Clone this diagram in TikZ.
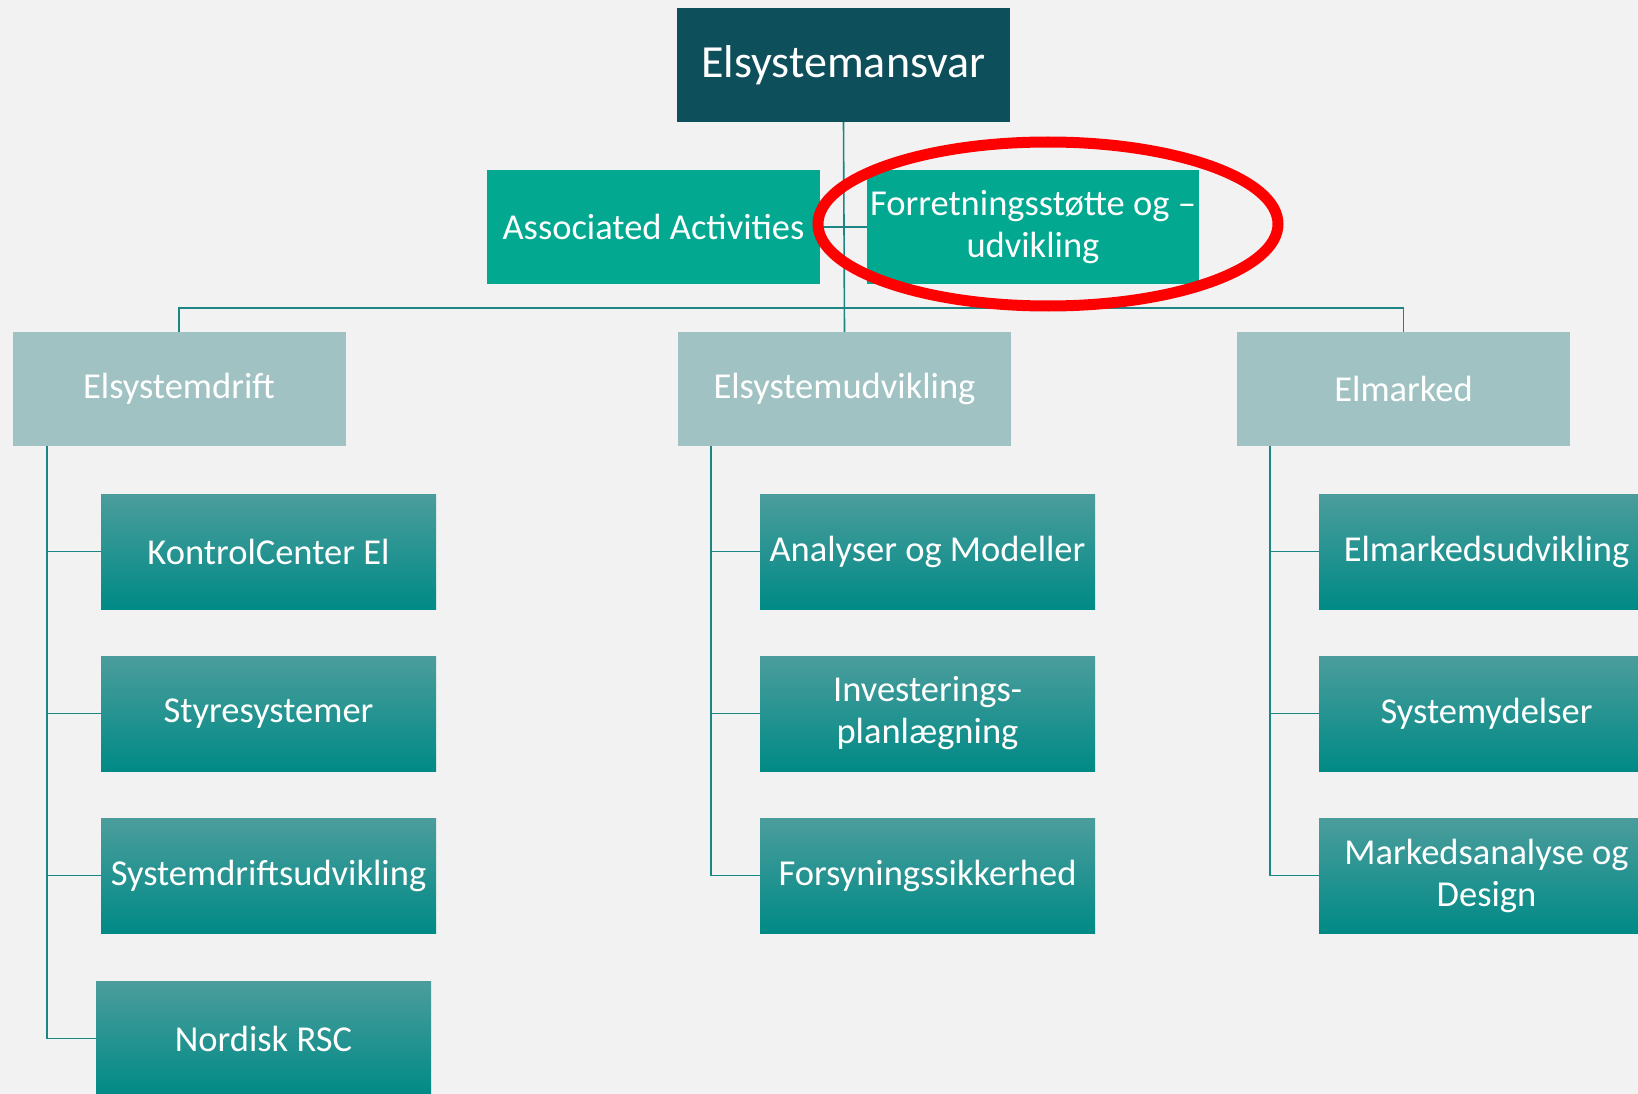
\documentclass[tikz,border=0pt]{standalone}
\usepackage{fontspec}
\setmainfont{Carlito}
\definecolor{bg}{HTML}{F2F2F2}
\definecolor{topc}{HTML}{0E4F5C}
\definecolor{midc}{HTML}{02A88F}
\definecolor{lvltwo}{HTML}{A1C2C3}
\definecolor{gtop}{HTML}{4B9D9C}
\definecolor{gmid}{HTML}{03928E}
\definecolor{gbot}{HTML}{008A86}
\definecolor{linec}{HTML}{1E8585}
\begin{document}
\begin{tikzpicture}[x=1pt,y=-1pt,
  box/.style={rectangle, inner sep=0pt, minimum width=333pt, minimum height=114pt, text=white, align=center},
  topbox/.style={box, fill=topc, font=\fontsize{46}{52}\selectfont},
  actbox/.style={box, fill=midc, font=\fontsize{36.5}{42}\selectfont},
  deptbox/.style={box, fill=lvltwo, font=\fontsize{36.5}{42}\selectfont},
  unitbox/.style={box, minimum width=335pt, minimum height=115pt, top color=gtop, middle color=gmid, bottom color=gbot, font=\fontsize{36.5}{42}\selectfont},
  conn/.style={draw=linec, line width=1.6pt}]
\fill[bg] (0,0) rectangle (1638,1094);
\useasboundingbox (0,0) rectangle (1638,1094);
\clip (0,0) rectangle (1638,1094);

\node[topbox] (top) at (843.5,65) {Elsystemansvar};
\node[actbox] (assoc) at (653.5,227) {Associated Activities};
\node[actbox, minimum width=332pt] (forr) at (1033,227) {Forretningsstøtte og –\\udvikling};

\node[deptbox] (drift) at (179,389) {Elsystemdrift};
\node[deptbox] (udv) at (844.5,389) {Elsystemudvikling};
\node[deptbox] (elm) at (1403.5,389) {Elmarked};

\node[unitbox] (k1) at (268.5,551.5) {KontrolCenter El};
\node[unitbox] (k2) at (268.5,713.5) {Styresystemer};
\node[unitbox] (k3) at (268.5,875.5) {Systemdriftsudvikling};
\node[unitbox] (k4) at (263.5,1038.5) {Nordisk RSC};

\node[unitbox] (m1) at (927.5,551.5) {Analyser og Modeller};
\node[unitbox] (m2) at (927.5,713.5) {Investerings-\\planlægning};
\node[unitbox] (m3) at (927.5,875.5) {Forsyningssikkerhed};

\node[unitbox] (r1) at (1486.5,551.5) {Elmarkedsudvikling};
\node[unitbox] (r2) at (1486.5,713.5) {Systemydelser};
\node[unitbox] (r3) at (1486.5,875.5) {Markedsanalyse og\\Design};

\coordinate (bar) at (844,308);
\draw[conn] (top.south) -- (udv.north);
\draw[conn] (assoc.east) -- (forr.west);
\draw[conn] (drift.north) |- (bar) -| (elm.north);

\coordinate (sl) at ([xshift=34.5pt]drift.south west);
\coordinate (sm) at ([xshift=33pt]udv.south west);
\coordinate (sr) at ([xshift=33pt]elm.south west);
\foreach \n in {k1,k2,k3,k4} \draw[conn] (sl) |- (\n.west);
\foreach \n in {m1,m2,m3} \draw[conn] (sm) |- (\n.west);
\foreach \n in {r1,r2,r3} \draw[conn] (sr) |- (\n.west);

\draw[red, line width=11pt] (1048,224) ellipse [x radius=230pt, y radius=82pt];
\end{tikzpicture}
\end{document}
